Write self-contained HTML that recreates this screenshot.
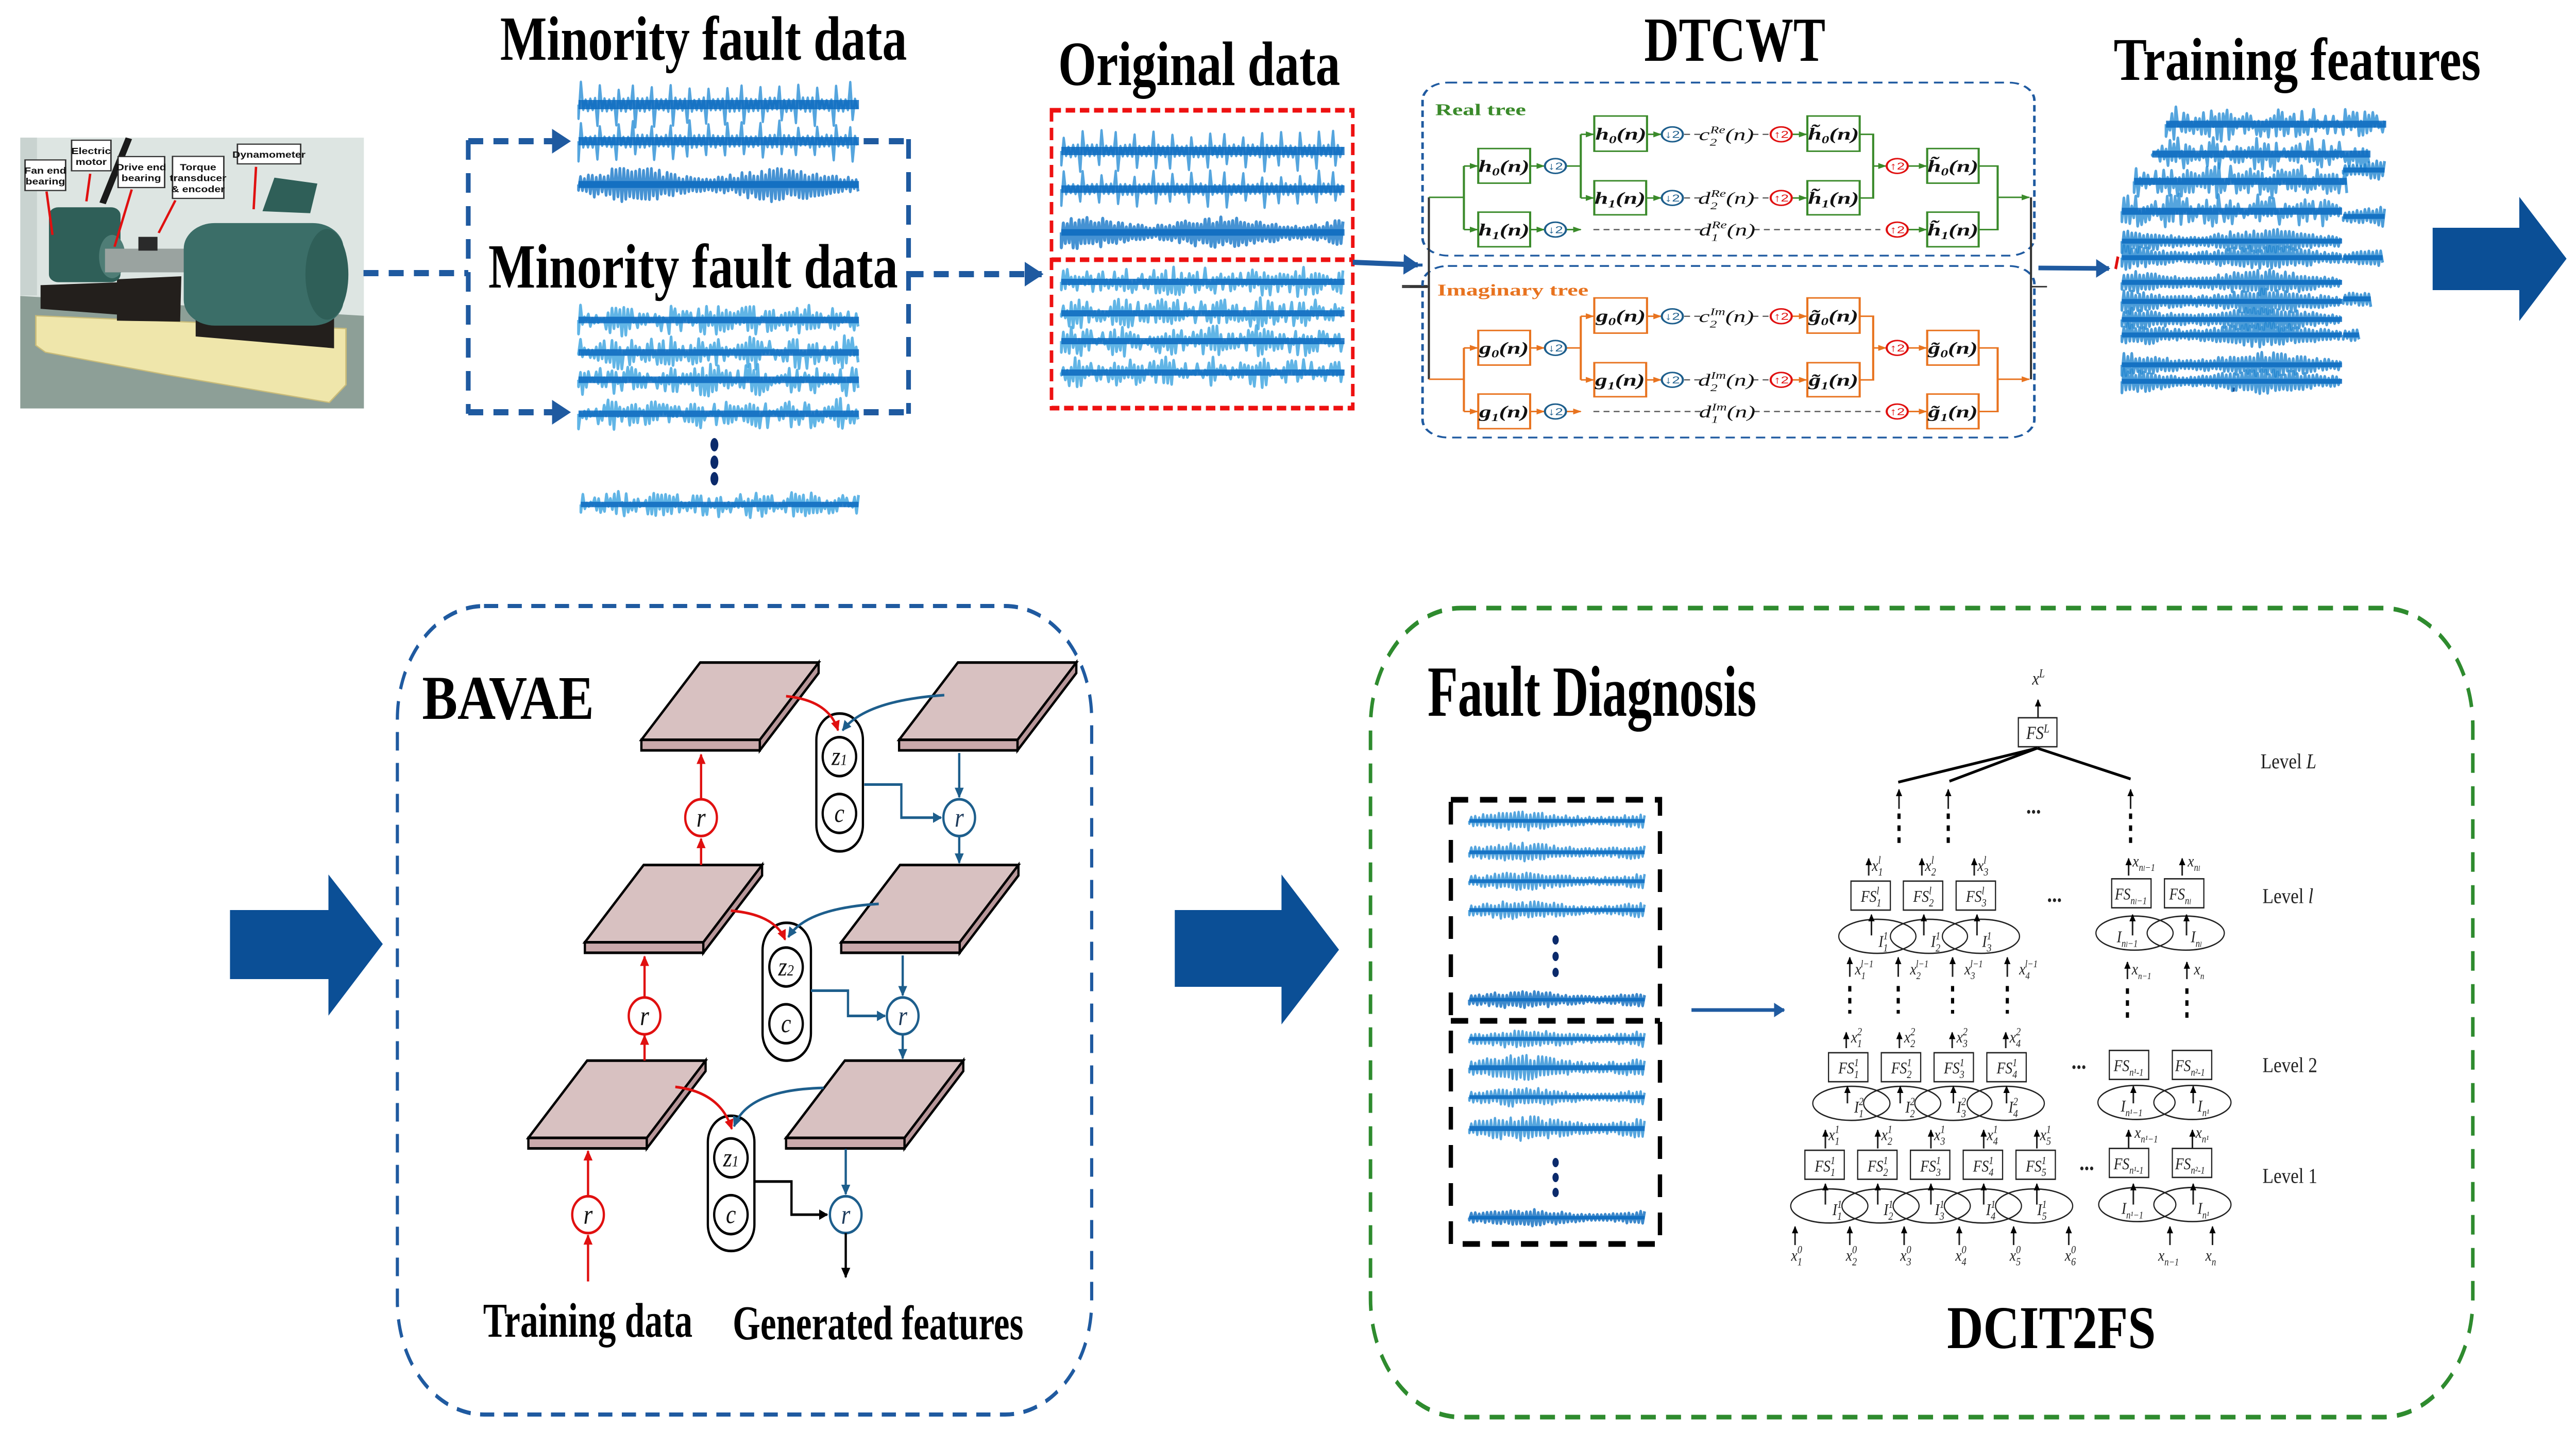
<!DOCTYPE html>
<html><head><meta charset="utf-8">
<style>
html,body{margin:0;padding:0;background:#fff;width:100%;height:100%;overflow:hidden}
svg#R{display:block;position:fixed;left:0;top:0;width:100vw;height:100vh}
.t{font-family:"Liberation Serif",serif;font-weight:bold;fill:#000}
.m{font-family:"Liberation Serif",serif;font-style:italic}
.s{font-family:"Liberation Sans",sans-serif;font-weight:bold}
</style></head><body>
<svg id="R" xmlns="http://www.w3.org/2000/svg" viewBox="0 0 6541 2808" preserveAspectRatio="none">
<defs>
<marker id="aB" viewBox="0 0 10 10" refX="9" refY="5" markerWidth="4" markerHeight="4" orient="auto"><path d="M0,0L10,5L0,10z" fill="#1f5aa0"/></marker>
<marker id="aG" viewBox="0 0 10 10" refX="9" refY="5" markerWidth="4" markerHeight="4" orient="auto"><path d="M0,0L10,5L0,10z" fill="#3a8a2a"/></marker>
<marker id="aO" viewBox="0 0 10 10" refX="9" refY="5" markerWidth="4" markerHeight="4" orient="auto"><path d="M0,0L10,5L0,10z" fill="#e8731f"/></marker>
<marker id="aR" viewBox="0 0 10 10" refX="9" refY="5" markerWidth="4" markerHeight="4" orient="auto"><path d="M0,0L10,5L0,10z" fill="#e01010"/></marker>
<marker id="aK" viewBox="0 0 10 10" refX="9" refY="5" markerWidth="4" markerHeight="4" orient="auto"><path d="M0,0L10,5L0,10z" fill="#000"/></marker>
<marker id="aT" viewBox="0 0 10 10" refX="9" refY="5" markerWidth="4" markerHeight="4" orient="auto"><path d="M0,0L10,5L0,10z" fill="#1d5e8c"/></marker>
</defs>

<g transform="translate(0,230) scale(0.6059,0.3827)">
<rect x="85" y="97" width="1440" height="1373" fill="#dde5e2"/>
<rect x="85" y="97" width="70" height="800" fill="#c9d3d0"/>
<polygon points="85,900 1525,1000 1525,1470 85,1470" fill="#8d9f97"/>
<polygon points="150,1000 1450,1065 1450,1350 1380,1440 700,1300 190,1185 150,1150" fill="#efe6ab" stroke="#c9bb78" stroke-width="6"/>
<polygon points="170,845 510,830 500,995 170,965" fill="#231f1c"/>
<polygon points="490,815 760,800 755,1030 490,1025" fill="#231f1c"/>
<polygon points="820,985 1400,1000 1400,1165 820,1105" fill="#231f1c"/>
<rect x="205" y="450" width="300" height="380" rx="40" fill="#2f5f58"/>
<ellipse cx="470" cy="700" rx="55" ry="110" fill="#4f7d76"/>
<rect x="440" y="660" width="340" height="120" fill="#9aa3a0"/>
<rect x="580" y="600" width="80" height="70" fill="#2a2a2a"/>
<rect x="770" y="530" width="670" height="520" rx="130" fill="#3b6e68"/>
<ellipse cx="1370" cy="790" rx="90" ry="230" fill="#2f5f58"/>
<polygon points="1100,470 1150,300 1330,330 1300,480" fill="#2f5f58"/>
<line x1="540" y1="100" x2="430" y2="430" stroke="#1a1a1a" stroke-width="28"/>
<g stroke="#e01010" stroke-width="10" fill="none">
<line x1="195" y1="370" x2="220" y2="590"/><line x1="378" y1="280" x2="362" y2="420"/><line x1="552" y1="360" x2="480" y2="650"/><line x1="735" y1="415" x2="665" y2="580"/><line x1="1073" y1="245" x2="1063" y2="460"/>
</g>
<g fill="#fff" stroke="#333" stroke-width="6">
<rect x="105" y="210" width="170" height="155"/><rect x="300" y="110" width="165" height="155"/><rect x="495" y="193" width="195" height="157"/><rect x="723" y="192" width="215" height="213"/><rect x="995" y="130" width="265" height="100"/>
</g>
<g class="s" font-size="46" fill="#111" text-anchor="middle">
<text x="190" y="280">Fan end</text><text x="190" y="335">bearing</text>
<text x="382" y="180">Electric</text><text x="382" y="235">motor</text>
<text x="592" y="262">Drive end</text><text x="592" y="318">bearing</text>
<text x="830" y="262">Torque</text><text x="830" y="318">transducer</text><text x="830" y="374">&amp; encoder</text>
<text x="1127" y="198">Dynamometer</text>
</g>
</g>

<text class="t" x="1270" y="116" font-size="122" textLength="1033" lengthAdjust="spacingAndGlyphs">Minority fault data</text>
<text class="t" x="1240" y="558" font-size="122" textLength="1040" lengthAdjust="spacingAndGlyphs">Minority fault data</text>
<text class="t" x="2687" y="165" font-size="122" textLength="716" lengthAdjust="spacingAndGlyphs">Original data</text>
<text class="t" x="4175" y="118" font-size="122" textLength="460" lengthAdjust="spacingAndGlyphs">DTCWT</text>
<text class="t" x="5367" y="155" font-size="118" textLength="932" lengthAdjust="spacingAndGlyphs">Training features</text>

<g stroke="#1f5aa0" stroke-width="12" fill="none" stroke-dasharray="38,26">
<line x1="923" y1="530" x2="1189" y2="530"/>
<line x1="1189" y1="272" x2="1189" y2="803"/>
<line x1="1189" y1="274" x2="1445" y2="274" marker-end="url(#aB)"/>
<line x1="1189" y1="800" x2="1445" y2="800" marker-end="url(#aB)"/>
<line x1="2307" y1="270" x2="2307" y2="803"/>
<line x1="2193" y1="274" x2="2307" y2="274"/>
<line x1="2193" y1="800" x2="2307" y2="800"/>
<line x1="2307" y1="532" x2="2645" y2="532" marker-end="url(#aB)"/>
</g>
<g stroke="#ee1111" stroke-width="9" fill="none" stroke-dasharray="24,12">
<rect x="2670" y="214" width="765" height="578"/>
<line x1="2670" y1="504" x2="3435" y2="504"/>
</g>
<line x1="3435" y1="509" x2="3600" y2="514" stroke="#1f5aa0" stroke-width="10" marker-end="url(#aB)"/>
<line x1="3560" y1="556" x2="3625" y2="556" stroke="#444" stroke-width="6"/>
<g fill="#0b2a6b"><ellipse cx="1814" cy="863" rx="10" ry="13"/><ellipse cx="1814" cy="897" rx="10" ry="13"/><ellipse cx="1814" cy="929" rx="10" ry="13"/></g>

<g transform="translate(3580,100) scale(1.0714,0.574)">
<g fill="none" stroke="#1f5aa0" stroke-width="6" stroke-dasharray="22,14">
<rect x="30" y="105" width="1450" height="585" rx="60"/>
<rect x="30" y="725" width="1450" height="580" rx="60"/>
</g>
<text x="60" y="215" font-family="Liberation Serif,serif" font-weight="bold" font-size="56" fill="#3a8a2a">Real tree</text>
<text x="65" y="825" font-family="Liberation Serif,serif" font-weight="bold" font-size="56" fill="#e8731f">Imaginary tree</text>
<g stroke="#333" stroke-width="5" fill="none"><line x1="45" y1="493" x2="45" y2="1108"/><line x1="1472" y1="493" x2="1472" y2="1108"/><line x1="0" y1="795" x2="45" y2="795"/><line x1="1472" y1="795" x2="1510" y2="795"/></g>
<line x1="0" y1="722" x2="30" y2="722" stroke="#1f5aa0" stroke-width="10"/>
<line x1="1490" y1="733" x2="1568" y2="735" stroke="#1f5aa0" stroke-width="10"/>
<g id="tree"></g>
<g font-family="Liberation Serif,serif" font-style="italic" font-weight="bold" font-size="58" text-anchor="middle" fill="#111">
<text x="223" y="407">h<tspan font-size="36" dy="12">0</tspan><tspan dy="-12">(n)</tspan></text>
<text x="223" y="622">h<tspan font-size="36" dy="12">1</tspan><tspan dy="-12">(n)</tspan></text>
<text x="500" y="298">h<tspan font-size="36" dy="12">0</tspan><tspan dy="-12">(n)</tspan></text>
<text x="498" y="515">h<tspan font-size="36" dy="12">1</tspan><tspan dy="-12">(n)</tspan></text>
<text x="1004" y="298">h̃<tspan font-size="36" dy="12">0</tspan><tspan dy="-12">(n)</tspan></text>
<text x="1004" y="515">h̃<tspan font-size="36" dy="12">1</tspan><tspan dy="-12">(n)</tspan></text>
<text x="1287" y="407">h̃<tspan font-size="36" dy="12">0</tspan><tspan dy="-12">(n)</tspan></text>
<text x="1287" y="622">h̃<tspan font-size="36" dy="12">1</tspan><tspan dy="-12">(n)</tspan></text>
<text x="750" y="300" font-weight="normal">c<tspan font-size="34" dy="18">2</tspan><tspan font-size="34" dx="-16" dy="-42">Re</tspan><tspan dy="24">(n)</tspan></text>
<text x="750" y="515" font-weight="normal">d<tspan font-size="34" dy="18">2</tspan><tspan font-size="34" dx="-16" dy="-42">Re</tspan><tspan dy="24">(n)</tspan></text>
<text x="752" y="622" font-weight="normal">d<tspan font-size="34" dy="18">1</tspan><tspan font-size="34" dx="-16" dy="-42">Re</tspan><tspan dy="24">(n)</tspan></text>
<text x="223" y="1022">g<tspan font-size="36" dy="12">0</tspan><tspan dy="-12">(n)</tspan></text>
<text x="223" y="1237">g<tspan font-size="36" dy="12">1</tspan><tspan dy="-12">(n)</tspan></text>
<text x="500" y="913">g<tspan font-size="36" dy="12">0</tspan><tspan dy="-12">(n)</tspan></text>
<text x="498" y="1130">g<tspan font-size="36" dy="12">1</tspan><tspan dy="-12">(n)</tspan></text>
<text x="1004" y="913">g̃<tspan font-size="36" dy="12">0</tspan><tspan dy="-12">(n)</tspan></text>
<text x="1004" y="1130">g̃<tspan font-size="36" dy="12">1</tspan><tspan dy="-12">(n)</tspan></text>
<text x="1287" y="1022">g̃<tspan font-size="36" dy="12">0</tspan><tspan dy="-12">(n)</tspan></text>
<text x="1287" y="1237">g̃<tspan font-size="36" dy="12">1</tspan><tspan dy="-12">(n)</tspan></text>
<text x="750" y="915" font-weight="normal">c<tspan font-size="34" dy="18">2</tspan><tspan font-size="34" dx="-16" dy="-42">Im</tspan><tspan dy="24">(n)</tspan></text>
<text x="750" y="1130" font-weight="normal">d<tspan font-size="34" dy="18">2</tspan><tspan font-size="34" dx="-16" dy="-42">Im</tspan><tspan dy="24">(n)</tspan></text>
<text x="752" y="1237" font-weight="normal">d<tspan font-size="34" dy="18">1</tspan><tspan font-size="34" dx="-16" dy="-42">Im</tspan><tspan dy="24">(n)</tspan></text>
</g>
<g font-family="Liberation Sans,sans-serif" font-size="34" text-anchor="middle">
<g fill="#1d5e8c"><text x="345" y="399">↓2</text><text x="345" y="614">↓2</text><text x="622" y="292">↓2</text><text x="622" y="507">↓2</text><text x="345" y="1014">↓2</text><text x="345" y="1229">↓2</text><text x="622" y="907">↓2</text><text x="622" y="1122">↓2</text></g>
<g fill="#e01010"><text x="880" y="292">↑2</text><text x="880" y="507">↑2</text><text x="1155" y="399">↑2</text><text x="1155" y="614">↑2</text><text x="880" y="907">↑2</text><text x="880" y="1122">↑2</text><text x="1155" y="1014">↑2</text><text x="1155" y="1229">↑2</text></g>
</g>
</g>

<g fill="#0b2a6b"><rect x="5668" y="752" width="6" height="8"/></g>
<line x1="5176" y1="520" x2="5355" y2="521" stroke="#1f5aa0" stroke-width="9" marker-end="url(#aB)"/>
<path d="M5378,498 L5372,522" stroke="#e01010" stroke-width="7"/>
<polygon points="6177,442 6397,442 6397,382 6517,502 6397,623 6397,563 6177,563" fill="#0b4f96"/>

<polygon points="584,1766 834,1766 834,1697 972,1832 834,1971 834,1900 584,1900" fill="#0b4f96"/>
<polygon points="2983,1766 3254,1766 3254,1697 3400,1843 3254,1988 3254,1915 2983,1915" fill="#0b4f96"/>

<rect x="1009" y="1176" width="1763" height="1569" rx="220" fill="none" stroke="#1f5aa0" stroke-width="8" stroke-dasharray="36,24"/>
<g transform="translate(980,1150) scale(1.148,1.0204)">
<g id="plates"></g>
<g stroke="#000" stroke-width="5" fill="#fff">
<rect x="952" y="230" width="103" height="262" rx="50"/><rect x="833" y="628" width="107" height="262" rx="52"/><rect x="712" y="995" width="103" height="257" rx="50"/>
<circle cx="1003" cy="312" r="37"/><circle cx="1003" cy="420" r="37"/><circle cx="885" cy="712" r="37"/><circle cx="885" cy="820" r="37"/><circle cx="763" cy="1075" r="37"/><circle cx="763" cy="1183" r="37"/>
</g>
<g class="m" font-size="50" text-anchor="middle" fill="#111">
<text x="1003" y="328">z<tspan font-size="30">1</tspan></text><text x="1003" y="436">c</text>
<text x="885" y="728">z<tspan font-size="30">2</tspan></text><text x="885" y="836">c</text>
<text x="763" y="1091">z<tspan font-size="30">1</tspan></text><text x="763" y="1199">c</text>
</g>
<g stroke="#e01010" stroke-width="5" fill="none">
<line x1="697" y1="518" x2="697" y2="468" marker-end="url(#aR)"/><line x1="697" y1="393" x2="697" y2="308" marker-end="url(#aR)"/>
<line x1="572" y1="890" x2="572" y2="842" marker-end="url(#aR)"/><line x1="572" y1="770" x2="572" y2="692" marker-end="url(#aR)"/>
<line x1="447" y1="1310" x2="447" y2="1222" marker-end="url(#aR)"/><line x1="447" y1="1148" x2="447" y2="1062" marker-end="url(#aR)"/>
<path d="M885,197 Q980,205 1000,262" marker-end="url(#aR)"/><path d="M763,605 Q860,612 883,660" marker-end="url(#aR)"/><path d="M640,940 Q740,950 765,1020" marker-end="url(#aR)"/>
<circle cx="697" cy="428" r="35" fill="#fff"/><circle cx="572" cy="805" r="35" fill="#fff"/><circle cx="447" cy="1183" r="35" fill="#fff"/>
</g>
<g class="m" font-size="52" text-anchor="middle" fill="#111"><text x="697" y="445">r</text><text x="572" y="822">r</text><text x="447" y="1200">r</text></g>
<g stroke="#1d5e8c" stroke-width="5" fill="none">
<path d="M1235,195 Q1060,205 1010,262" marker-end="url(#aT)"/><path d="M1090,592 Q930,600 890,655" marker-end="url(#aT)"/><path d="M968,942 Q800,945 770,1015" marker-end="url(#aT)"/>
<polyline points="1058,365 1140,365 1140,428 1228,428" marker-end="url(#aT)"/>
<polyline points="940,757 1022,757 1022,805 1104,805" marker-end="url(#aT)"/>
<line x1="1268" y1="305" x2="1268" y2="389" marker-end="url(#aT)"/><line x1="1268" y1="463" x2="1268" y2="514" marker-end="url(#aT)"/>
<line x1="1143" y1="690" x2="1143" y2="766" marker-end="url(#aT)"/><line x1="1143" y1="840" x2="1143" y2="886" marker-end="url(#aT)"/>
<line x1="1017" y1="1058" x2="1017" y2="1144" marker-end="url(#aT)"/>
<circle cx="1268" cy="428" r="35" fill="#fff"/><circle cx="1143" cy="805" r="35" fill="#fff"/><circle cx="1017" cy="1183" r="35" fill="#fff"/>
</g>
<polyline points="815,1120 897,1120 897,1183 976,1183" stroke="#000" stroke-width="5" fill="none" marker-end="url(#aK)"/>
<line x1="1017" y1="1218" x2="1017" y2="1302" stroke="#000" stroke-width="5" marker-end="url(#aK)"/>
<g class="m" font-size="52" text-anchor="middle" fill="#1d3b5c"><text x="1268" y="445">r</text><text x="1143" y="822">r</text><text x="1017" y="1200">r</text></g>
<text class="t" x="80" y="240" font-size="118" textLength="380" lengthAdjust="spacingAndGlyphs">BAVAE</text>
<text class="t" x="215" y="1415" font-size="92" textLength="463" lengthAdjust="spacingAndGlyphs">Training data</text>
<text class="t" x="767" y="1420" font-size="92" textLength="643" lengthAdjust="spacingAndGlyphs">Generated features</text>
</g>

<rect x="3480" y="1180" width="2799" height="1570" rx="230" fill="none" stroke="#2e8b2e" stroke-width="9" stroke-dasharray="38,26"/>
<text class="t" x="3625" y="1389" font-size="140" textLength="835" lengthAdjust="spacingAndGlyphs">Fault Diagnosis</text>
<g stroke="#000" stroke-width="11" fill="none" stroke-dasharray="44,30">
<rect x="3684" y="1552" width="531" height="862"/><line x1="3684" y1="1981" x2="4215" y2="1981"/>
</g>
<g fill="#0b2a6b">
<ellipse cx="3950" cy="1824" rx="8" ry="9"/><ellipse cx="3950" cy="1856" rx="8" ry="9"/><ellipse cx="3950" cy="1887" rx="8" ry="9"/>
<ellipse cx="3950" cy="2256" rx="8" ry="9"/><ellipse cx="3950" cy="2285" rx="8" ry="9"/><ellipse cx="3950" cy="2314" rx="8" ry="9"/>
</g>
<line x1="4295" y1="1960" x2="4530" y2="1960" stroke="#1f5aa0" stroke-width="7" marker-end="url(#aB)"/>
<text class="t" x="4944" y="2616" font-size="118" textLength="530" lengthAdjust="spacingAndGlyphs">DCIT2FS</text>

<g transform="translate(4505,1150) scale(1.0,0.8929)">
<g id="dc" stroke="#222" stroke-width="3" fill="none"></g>
<g class="m" font-size="40" fill="#222">
<text x="655" y="200">x<tspan font-size="26" dy="-16">L</tspan></text>
<text x="640" y="318">FS<tspan font-size="26" dy="-14">L</tspan></text>
<text x="640" y="480" font-style="normal" font-weight="bold" font-size="50">...</text>
<text x="693" y="672" font-style="normal" font-weight="bold" font-size="50">...</text>
<text x="755" y="1035" font-style="normal" font-weight="bold" font-size="50">...</text>
<text x="775" y="1255" font-style="normal" font-weight="bold" font-size="50">...</text>
</g>
<g font-family="Liberation Serif,serif" font-size="46" fill="#222">
<text x="1235" y="382">Level <tspan font-style="italic">L</tspan></text>
<text x="1240" y="675">Level <tspan font-style="italic">l</tspan></text>
<text x="1240" y="1042">Level 2</text>
<text x="1240" y="1283">Level 1</text>
</g>
<g class="m" font-size="36" fill="#222">
<text x="220" y="672">FS<tspan font-size="24" dy="10">1</tspan><tspan font-size="24" dx="-12" dy="-26">l</tspan></text>
<text x="353" y="672">FS<tspan font-size="24" dy="10">2</tspan><tspan font-size="24" dx="-12" dy="-26">l</tspan></text>
<text x="487" y="672">FS<tspan font-size="24" dy="10">3</tspan><tspan font-size="24" dx="-12" dy="-26">l</tspan></text>
<text x="865" y="667">FS<tspan font-size="22" dy="10">n<tspan font-size="16">l</tspan>−1</tspan></text>
<text x="1003" y="667">FS<tspan font-size="22" dy="10">n<tspan font-size="16">l</tspan></tspan></text>
<text x="248" y="605">x<tspan font-size="24" dy="10">1</tspan><tspan font-size="24" dx="-12" dy="-26">l</tspan></text>
<text x="383" y="605">x<tspan font-size="24" dy="10">2</tspan><tspan font-size="24" dx="-12" dy="-26">l</tspan></text>
<text x="516" y="605">x<tspan font-size="24" dy="10">3</tspan><tspan font-size="24" dx="-12" dy="-26">l</tspan></text>
<text x="910" y="595">x<tspan font-size="22" dy="10">n<tspan font-size="16">l</tspan>−1</tspan></text>
<text x="1050" y="595">x<tspan font-size="22" dy="10">n<tspan font-size="16">l</tspan></tspan></text>
<text x="265" y="770">I<tspan font-size="24" dy="10">1</tspan><tspan font-size="24" dx="-12" dy="-26">1</tspan></text>
<text x="398" y="770">I<tspan font-size="24" dy="10">2</tspan><tspan font-size="24" dx="-12" dy="-26">1</tspan></text>
<text x="528" y="770">I<tspan font-size="24" dy="10">3</tspan><tspan font-size="24" dx="-12" dy="-26">1</tspan></text>
<text x="870" y="760">I<tspan font-size="22" dy="10">n<tspan font-size="16">l</tspan>−1</tspan></text>
<text x="1058" y="760">I<tspan font-size="22" dy="10">n<tspan font-size="16">l</tspan></tspan></text>
<text x="205" y="830">x<tspan font-size="22" dy="10">1</tspan><tspan font-size="22" dx="-12" dy="-26">l−1</tspan></text>
<text x="345" y="830">x<tspan font-size="22" dy="10">2</tspan><tspan font-size="22" dx="-12" dy="-26">l−1</tspan></text>
<text x="483" y="830">x<tspan font-size="22" dy="10">3</tspan><tspan font-size="22" dx="-12" dy="-26">l−1</tspan></text>
<text x="622" y="830">x<tspan font-size="22" dy="10">4</tspan><tspan font-size="22" dx="-12" dy="-26">l−1</tspan></text>
<text x="908" y="830">x<tspan font-size="20" dy="10">n−1</tspan></text>
<text x="1066" y="830">x<tspan font-size="20" dy="10">n</tspan></text>
<text x="163" y="1045">FS<tspan font-size="24" dy="10">1</tspan><tspan font-size="24" dx="-12" dy="-26">1</tspan></text>
<text x="297" y="1045">FS<tspan font-size="24" dy="10">2</tspan><tspan font-size="24" dx="-12" dy="-26">1</tspan></text>
<text x="431" y="1045">FS<tspan font-size="24" dy="10">3</tspan><tspan font-size="24" dx="-12" dy="-26">1</tspan></text>
<text x="565" y="1045">FS<tspan font-size="24" dy="10">4</tspan><tspan font-size="24" dx="-12" dy="-26">1</tspan></text>
<text x="862" y="1040">FS<tspan font-size="22" dy="10">n¹-1</tspan></text>
<text x="1018" y="1040">FS<tspan font-size="22" dy="10">n²-1</tspan></text>
<text x="195" y="978">x<tspan font-size="24" dy="10">1</tspan><tspan font-size="24" dx="-12" dy="-26">2</tspan></text>
<text x="330" y="978">x<tspan font-size="24" dy="10">2</tspan><tspan font-size="24" dx="-12" dy="-26">2</tspan></text>
<text x="463" y="978">x<tspan font-size="24" dy="10">3</tspan><tspan font-size="24" dx="-12" dy="-26">2</tspan></text>
<text x="598" y="978">x<tspan font-size="24" dy="10">4</tspan><tspan font-size="24" dx="-12" dy="-26">2</tspan></text>
<text x="203" y="1130">I<tspan font-size="24" dy="10">1</tspan><tspan font-size="24" dx="-12" dy="-26">2</tspan></text>
<text x="333" y="1130">I<tspan font-size="24" dy="10">2</tspan><tspan font-size="24" dx="-12" dy="-26">2</tspan></text>
<text x="463" y="1130">I<tspan font-size="24" dy="10">3</tspan><tspan font-size="24" dx="-12" dy="-26">2</tspan></text>
<text x="595" y="1130">I<tspan font-size="24" dy="10">4</tspan><tspan font-size="24" dx="-12" dy="-26">2</tspan></text>
<text x="880" y="1128">I<tspan font-size="22" dy="10">n¹−1</tspan></text>
<text x="1075" y="1128">I<tspan font-size="22" dy="10">n¹</tspan></text>
<text x="103" y="1258">FS<tspan font-size="24" dy="10">1</tspan><tspan font-size="24" dx="-12" dy="-26">1</tspan></text>
<text x="237" y="1258">FS<tspan font-size="24" dy="10">2</tspan><tspan font-size="24" dx="-12" dy="-26">1</tspan></text>
<text x="371" y="1258">FS<tspan font-size="24" dy="10">3</tspan><tspan font-size="24" dx="-12" dy="-26">1</tspan></text>
<text x="505" y="1258">FS<tspan font-size="24" dy="10">4</tspan><tspan font-size="24" dx="-12" dy="-26">1</tspan></text>
<text x="639" y="1258">FS<tspan font-size="24" dy="10">5</tspan><tspan font-size="24" dx="-12" dy="-26">1</tspan></text>
<text x="862" y="1253">FS<tspan font-size="22" dy="10">n¹-1</tspan></text>
<text x="1018" y="1253">FS<tspan font-size="22" dy="10">n²-1</tspan></text>
<text x="138" y="1190">x<tspan font-size="24" dy="10">1</tspan><tspan font-size="24" dx="-12" dy="-26">1</tspan></text>
<text x="272" y="1190">x<tspan font-size="24" dy="10">2</tspan><tspan font-size="24" dx="-12" dy="-26">1</tspan></text>
<text x="406" y="1190">x<tspan font-size="24" dy="10">3</tspan><tspan font-size="24" dx="-12" dy="-26">1</tspan></text>
<text x="540" y="1190">x<tspan font-size="24" dy="10">4</tspan><tspan font-size="24" dx="-12" dy="-26">1</tspan></text>
<text x="675" y="1190">x<tspan font-size="24" dy="10">5</tspan><tspan font-size="24" dx="-12" dy="-26">1</tspan></text>
<text x="915" y="1185">x<tspan font-size="22" dy="10">n¹−1</tspan></text>
<text x="1070" y="1185">x<tspan font-size="22" dy="10">n¹</tspan></text>
<text x="148" y="1353">I<tspan font-size="24" dy="10">1</tspan><tspan font-size="24" dx="-12" dy="-26">1</tspan></text>
<text x="278" y="1353">I<tspan font-size="24" dy="10">2</tspan><tspan font-size="24" dx="-12" dy="-26">1</tspan></text>
<text x="408" y="1353">I<tspan font-size="24" dy="10">3</tspan><tspan font-size="24" dx="-12" dy="-26">1</tspan></text>
<text x="538" y="1353">I<tspan font-size="24" dy="10">4</tspan><tspan font-size="24" dx="-12" dy="-26">1</tspan></text>
<text x="668" y="1353">I<tspan font-size="24" dy="10">5</tspan><tspan font-size="24" dx="-12" dy="-26">1</tspan></text>
<text x="882" y="1350">I<tspan font-size="22" dy="10">n¹−1</tspan></text>
<text x="1075" y="1350">I<tspan font-size="22" dy="10">n¹</tspan></text>
<text x="43" y="1452">x<tspan font-size="24" dy="10">1</tspan><tspan font-size="24" dx="-12" dy="-26">0</tspan></text>
<text x="182" y="1452">x<tspan font-size="24" dy="10">2</tspan><tspan font-size="24" dx="-12" dy="-26">0</tspan></text>
<text x="320" y="1452">x<tspan font-size="24" dy="10">3</tspan><tspan font-size="24" dx="-12" dy="-26">0</tspan></text>
<text x="460" y="1452">x<tspan font-size="24" dy="10">4</tspan><tspan font-size="24" dx="-12" dy="-26">0</tspan></text>
<text x="598" y="1452">x<tspan font-size="24" dy="10">5</tspan><tspan font-size="24" dx="-12" dy="-26">0</tspan></text>
<text x="738" y="1452">x<tspan font-size="24" dy="10">6</tspan><tspan font-size="24" dx="-12" dy="-26">0</tspan></text>
<text x="975" y="1452">x<tspan font-size="22" dy="10">n−1</tspan></text>
<text x="1095" y="1452">x<tspan font-size="22" dy="10">n</tspan></text>
</g>
</g>

<g id="sigs"></g>
</svg>

<script>
(function(){
var NS="http://www.w3.org/2000/svg";
function el(parent,tag,attrs){var e=document.createElementNS(NS,tag);for(var k in attrs)e.setAttribute(k,attrs[k]);parent.appendChild(e);return e;}
var seed=7;function rnd(){seed=(seed*16807)%2147483647;return seed/2147483647;}
var S=document.getElementById('sigs');
function sig(x1,x2,y,amp,kind,col,sw){
  var d="M"+x1+","+y,step=kind=='spiky'?6:5,i=0;
  for(var x=x1;x<=x2;x+=step){i++;
    var a;
    if(kind=='spiky'){var ph=((x-x1)%46);a=amp*(ph<12?1:0.3)*(0.6+0.4*rnd());}
    else if(kind=='dense'){a=amp*(0.5+0.5*rnd())*(0.7+0.3*Math.sin(x/60));}
    else {a=amp*rnd()*(0.5+0.5*Math.abs(Math.sin(x/37)));}
    var s=(i%2?1:-1);d+=" L"+x+","+(y+s*a).toFixed(1);}
  el(S,'path',{d:d,stroke:col||'#2a8fd6','stroke-width':sw||6,fill:'none','stroke-opacity':0.8,'stroke-linejoin':'round'});
  el(S,'line',{x1:x1,y1:y,x2:x2,y2:y,stroke:'#0d6bbf','stroke-width':Math.max(6,amp*0.4),'stroke-opacity':0.85});
}
sig(1469,2181,203,45,'spiky');sig(1469,2181,274,40,'spiky');sig(1469,2181,358,34,'dense','#1677c8',7);
[621,684,737,803].forEach(function(y){sig(1469,2181,y,32,'noise','#3aa3e0',7);});
sig(1475,2180,979,26,'noise','#3aa3e0',7);
sig(2695,3414,293,40,'spiky');sig(2695,3414,367,36,'spiky');sig(2695,3414,451,32,'dense','#1677c8',8);
[547,608,662,723].forEach(function(y){sig(2695,3414,y,30,'noise','#3aa3e0',7);});
[[5500,6059,241],[5465,6019,299],[5419,5959,352],[5388,5947,410]].forEach(function(r){sig(r[0],r[1],r[2],34,'noise','#2a8fd6',7);});
[468,500,548,585,620,650,708,740].forEach(function(y){sig(5388,5947,y,24,'dense','#1f84d0',7);});
[[5950,6055,330],[5950,6055,420],[5950,6050,500],[5950,6020,580],[5950,5990,650]].forEach(function(r){sig(r[0],r[1],r[2],24,'dense','#1f84d0',7);});
[1593,1654,1710,1766,2016,2072,2129,2190].forEach(function(y,i){sig(3731,4176,y,i==7||i==5?24:18,'dense','#2a8fd6',6);});
sig(3731,4176,1940,16,'dense','#0d6bbf',7);sig(3731,4176,2363,16,'dense','#0d6bbf',7);

var P=document.getElementById('plates');
[[695,133],[1265,133],[570,518],[1137,518],[445,890],[1015,890]].forEach(function(p){
  var x=p[0],y=p[1],w=262,dx=130,dy=147,th=20;
  el(P,'polygon',{points:[x,y,x+w,y,x+w-dx,y+dy,x-dx,y+dy].join(' '),fill:'#d8c1c1',stroke:'#000','stroke-width':5});
  el(P,'polygon',{points:[x-dx,y+dy,x+w-dx,y+dy,x+w-dx,y+dy+th,x-dx,y+dy+th].join(' '),fill:'#caa9ab',stroke:'#000','stroke-width':5});
  el(P,'polygon',{points:[x+w-dx,y+dy,x+w,y,x+w,y+th,x+w-dx,y+dy+th].join(' '),fill:'#b8979a',stroke:'#000','stroke-width':5});
});

var T=document.getElementById('tree');
function tree(off,col,mk){
  var g=el(T,'g',{stroke:col,'stroke-width':5,fill:'none'});
  var m='url(#'+mk+')';
  function L(pts,arrow){var a={points:pts.join(' ')};if(arrow)a['marker-end']=m;el(g,'polyline',a);}
  var Y=function(v){return v+off;};
  L([45,Y(493),128,Y(493)]);L([128,Y(387),128,Y(602)]);
  L([128,Y(387),160,Y(387)],1);L([128,Y(602),160,Y(602)],1);
  L([285,Y(387),318,Y(387)],1);L([285,Y(602),318,Y(602)],1);
  L([370,Y(387),405,Y(387)]);L([405,Y(280),405,Y(495)]);
  L([405,Y(280),435,Y(280)],1);L([405,Y(495),435,Y(495)],1);
  L([562,Y(280),595,Y(280)],1);L([560,Y(495),595,Y(495)],1);
  L([370,Y(602),405,Y(602)],1);
  L([905,Y(280),940,Y(280)],1);L([905,Y(495),940,Y(495)],1);
  L([1066,Y(280),1098,Y(280),1098,Y(495),1066,Y(495)]);L([1098,Y(387),1128,Y(387)],1);
  L([1180,Y(387),1224,Y(387)],1);L([1180,Y(602),1224,Y(602)],1);
  L([1348,Y(387),1393,Y(387),1393,Y(602),1348,Y(602)]);L([1393,Y(493),1468,Y(493)],1);
  [[162,328,123,117],[162,543,123,117],[437,218,125,119],[437,437,123,115],[942,218,124,119],[942,437,124,115],[1226,328,122,117],[1226,543,122,117]].forEach(function(b){
    el(g,'rect',{x:b[0],y:Y(b[1]),width:b[2],height:b[3],fill:'#fff'});});
  var d=el(T,'g',{stroke:'#555','stroke-width':4,'stroke-dasharray':'14,10',fill:'none'});
  el(d,'line',{x1:650,y1:Y(280),x2:690,y2:Y(280)});el(d,'line',{x1:812,y1:Y(280),x2:850,y2:Y(280)});
  el(d,'line',{x1:650,y1:Y(495),x2:690,y2:Y(495)});el(d,'line',{x1:812,y1:Y(495),x2:850,y2:Y(495)});
  el(d,'line',{x1:435,y1:Y(602),x2:690,y2:Y(602)});el(d,'line',{x1:815,y1:Y(602),x2:1115,y2:Y(602)});
  [[345,387],[345,602],[622,280],[622,495]].forEach(function(c){el(T,'circle',{cx:c[0],cy:Y(c[1]),r:25,fill:'#fff',stroke:'#1d5e8c','stroke-width':5});});
  [[880,280],[880,495],[1155,387],[1155,602]].forEach(function(c){el(T,'circle',{cx:c[0],cy:Y(c[1]),r:25,fill:'#fff',stroke:'#e01010','stroke-width':5});});
}
tree(0,'#3a8a2a','aG');tree(615,'#e8731f','aO');

var D=document.getElementById('dc');
function box(x,y,w,h){el(D,'rect',{x:x,y:y,width:w,height:h,fill:'#fff'});}
function ell(cx,cy){el(D,'ellipse',{cx:cx,cy:cy,rx:98,ry:37});}
function up(x,y1,y2){el(D,'line',{x1:x,y1:y1,x2:x,y2:y2+8,'stroke-width':4,'marker-end':'url(#aK)'});}
function dots(x,y1,y2){el(D,'line',{x1:x,y1:y1,x2:x,y2:y2,'stroke-width':8,'stroke-dasharray':'12,14',stroke:'#000'});}
box(620,272,98,63);up(670,272,225);
[[315,412],[445,410],[905,405]].forEach(function(p){el(D,'line',{x1:p[0],y1:p[1],x2:668,y2:338,'stroke-width':6,stroke:'#000'});});
[317,442,905].forEach(function(x){up(x,470,420);dots(x,480,545);});
[262,393,525,915,1045].forEach(function(c,i){ell(c,i<3?747:740);});
[[195,627],[328,627],[462,627],[857,622],[991,622]].forEach(function(b){box(b[0],b[1],100,63);});
[247,380,515,910,1047].forEach(function(x){up(x,745,692);});
[240,375,508,900,1036].forEach(function(x){up(x,615,570);});
[192,315,453,592].forEach(function(x){up(x,835,785);dots(x,855,915);});
[897,1048].forEach(function(x){up(x,840,795);dots(x,860,925);});
[196,325,455,588].forEach(function(c){ell(c,1110);});[920,1062].forEach(function(c){ell(c,1108);});
[[138,1000],[272,1000],[406,1000],[540,1000],[851,995],[1011,995]].forEach(function(b){box(b[0],b[1],100,63);});
[186,320,455,590,912,1064].forEach(function(x){up(x,1110,1065);});
[183,318,452,588].forEach(function(x){up(x,990,948);});
[140,270,400,530,660].forEach(function(c){ell(c,1333);});[922,1062].forEach(function(c){ell(c,1330);});
[[78,1212],[212,1212],[346,1212],[480,1212],[614,1212],[851,1208],[1011,1208]].forEach(function(b){box(b[0],b[1],100,63);});
[130,263,398,532,667,900,1062].forEach(function(x){up(x,1208,1160);});
[130,263,398,532,667,912,1064].forEach(function(x){up(x,1330,1277);});
[53,192,330,470,608,748,1005,1113].forEach(function(x){up(x,1418,1370);});
})();
</script>
</body></html>
